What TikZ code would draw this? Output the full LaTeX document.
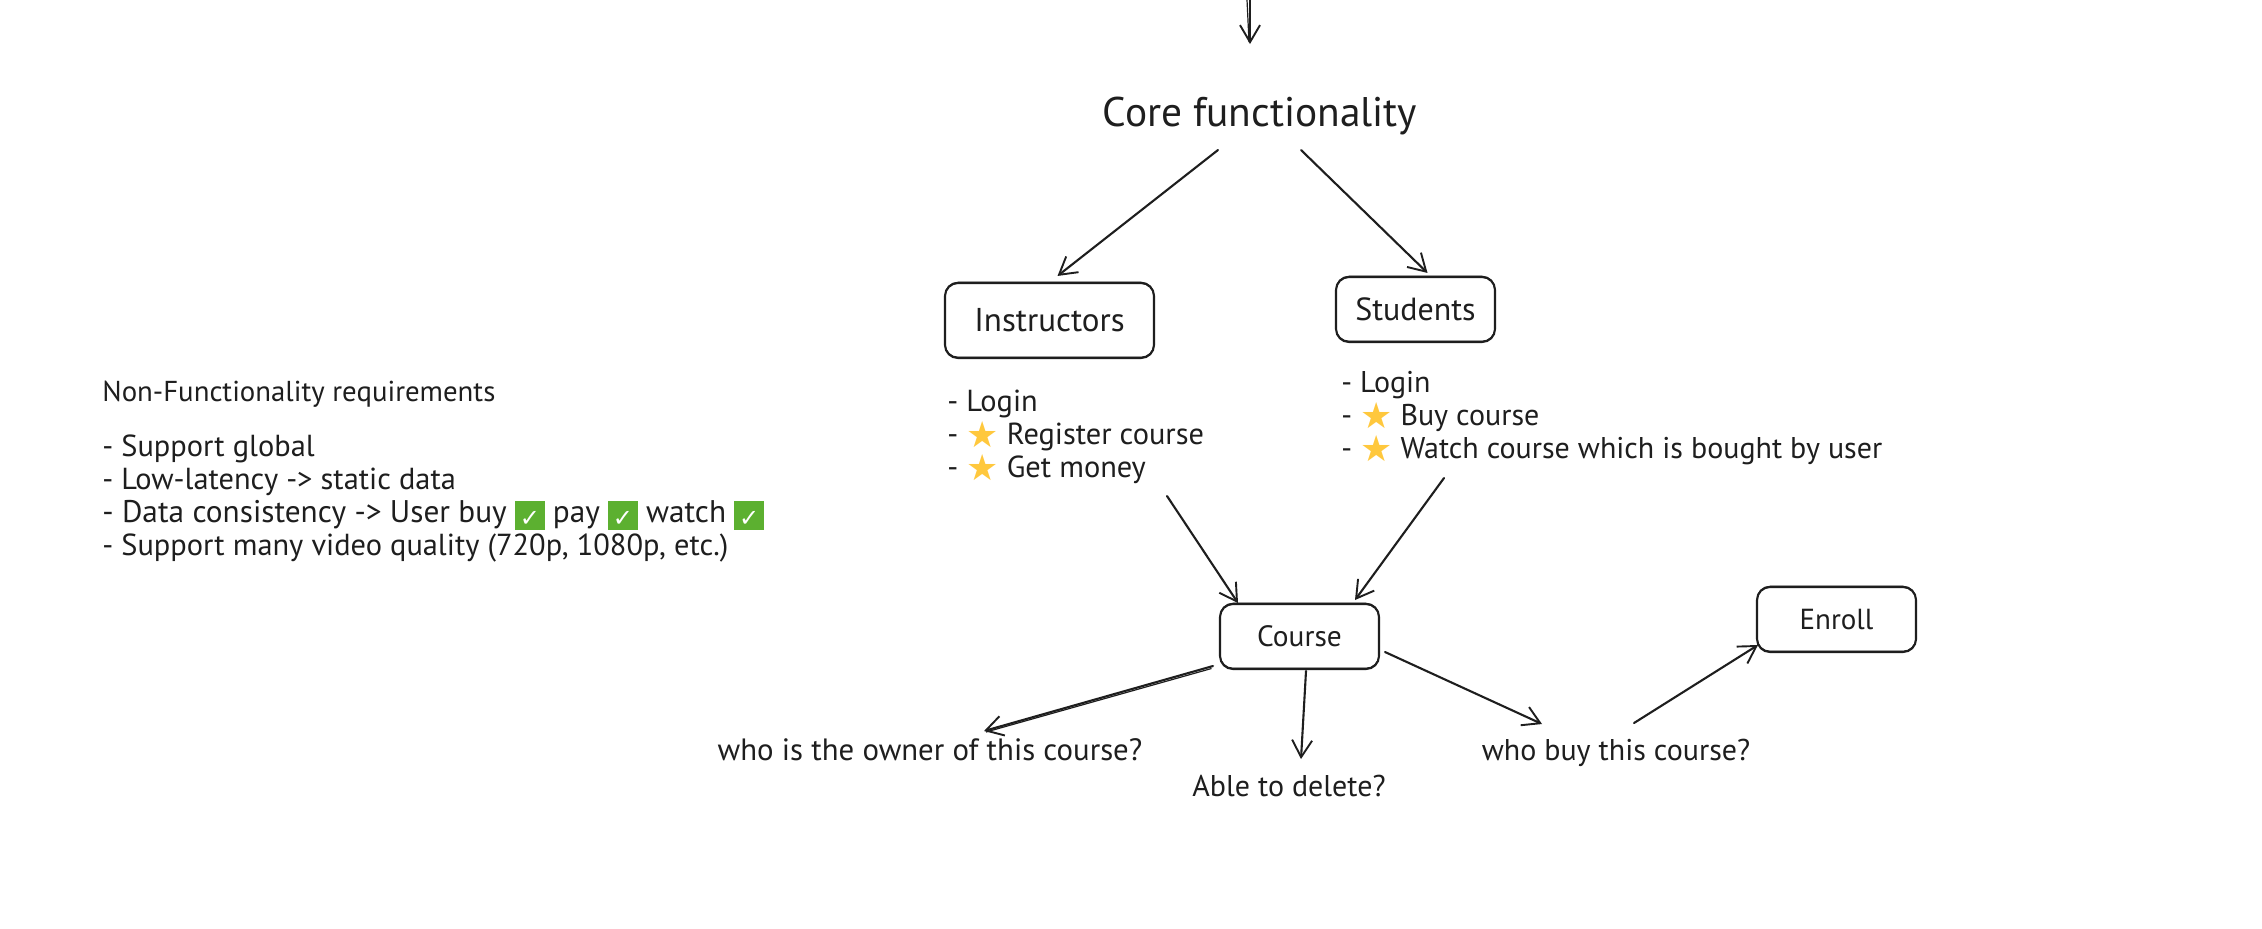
\documentclass[tikz,border=0pt]{standalone}
\usepackage{fontspec}
\setmainfont{PT Sans}
\newfontfamily\symfont{DejaVu Sans}
\usetikzlibrary{arrows.meta}
\definecolor{ink}{HTML}{1E1E1E}
\definecolor{stargold}{HTML}{FFC83D}
\definecolor{chkgreen}{HTML}{5CB030}
\newcommand{\starmark}{\smash{\raisebox{-1.2pt}{\symfont\fontsize{18}{18}\selectfont\color{stargold}★}}}
\newcommand{\chkmark}{\smash{\raisebox{-2.4pt}{\setlength{\fboxsep}{0.6pt}\colorbox{chkgreen}{\rule[-1pt]{0pt}{13.5pt}\makebox[13.5pt]{\symfont\fontsize{12}{12}\selectfont\color{white}✓}}}}}
\tikzset{
  x=0.5pt,y=-0.5pt,
  sketchbox/.style={draw=ink,line width=1.05pt,rounded corners=6.5pt,text=ink,inner sep=0pt,
    postaction={draw=ink,line width=0.5pt,transform canvas={yshift=0.4pt}}},
  arr/.style={draw=ink,line width=1.05pt,line cap=round,-{Straight Barb[length=8.5pt,width=10pt,line width=0.95pt]}},
  thinstroke/.style={draw=ink,line width=0.6pt},
  txt/.style={text=ink,inner sep=0pt,font=\fontsize{15}{16.5}\selectfont,align=left},
}
\begin{document}
\begin{tikzpicture}
\useasboundingbox[fill=white] (0,0) rectangle (2262,928);
\node[text=ink,inner sep=0pt,font=\fontsize{20.7}{24}\selectfont] (core) at (1260,116) {Core functionality};
\coordinate (topin) at (1250,0);
\coordinate (topin2) at (1247,0);
\node[sketchbox,minimum width=104.5pt,minimum height=37.5pt,font=\fontsize{16.5}{18}\selectfont] (instr) at (1049.5,320.5) {Instructors};
\node[sketchbox,minimum width=79.5pt,minimum height=32.5pt,font=\fontsize{16}{18}\selectfont] (stud) at (1415.5,309.5) {Students};
\node[sketchbox,minimum width=79.5pt,minimum height=32.5pt,font=\fontsize{14.7}{18}\selectfont] (course) at (1299.5,636.5) {Course};
\node[sketchbox,minimum width=79.5pt,minimum height=32.5pt,font=\fontsize{14.5}{18}\selectfont] (enroll) at (1836.5,619.5) {Enroll};
\node[txt,anchor=north west,font=\fontsize{15.2}{16.5}\selectfont] (ilist) at (947,390) {- Login\\- \starmark{} Register course\\- \starmark{} Get money};
\node[txt,anchor=north west] (slist) at (1341,371) {- Login\\- \starmark{} Buy course\\- \starmark{} Watch course which is bought by user};
\node[txt,anchor=north west,font=\fontsize{14.4}{16.5}\selectfont] (nfhead) at (102,381) {Non-Functionality requirements};
\node[txt,anchor=north west,font=\fontsize{15.2}{16.5}\selectfont] (nflist) at (102,434) {- Support global\\- Low-latency -> static data\\{\fontsize{15.65}{16.5}\selectfont - Data consistency -> User buy \chkmark{} pay \chkmark{} watch \chkmark{}}\\- Support many video quality (720p, 1080p, etc.)};
\node[txt,font=\fontsize{15.4}{16.5}\selectfont] (owner) at (930,750) {who is the owner of this course?};
\node[txt] (del) at (1289,786) {Able to delete?};
\node[txt] (buy) at (1616,753) {who buy this course?};
\draw[arr] (topin) -- ([shift={(-10,-72)}]core.center);
\draw[thinstroke] (topin2) -- ([shift={(-11,-74)}]core.center);
\draw[arr] ([shift={(-42,34)}]core.center) -- ([shift={(8,-6)}]instr.north);
\draw[arr] ([shift={(41,34)}]core.center) -- ([shift={(12,-3)}]stud.north);
\draw[arr] ([shift={(220,106)}]ilist.north west) -- ([shift={(-61.5,-33.5)}]course.center);
\draw[arr] ([shift={(103,107)}]slist.north west) -- ([shift={(55.5,-36.5)}]course.center);
\draw[arr] ([shift={(-86.5,29.5)}]course.center) -- ([shift={(54,-19)}]owner.center);
\draw[thinstroke] ([shift={(-88,32)}]course.center) -- ([shift={(56,-18)}]owner.center);
\draw[arr] ([shift={(6.5,34.5)}]course.center) -- ([shift={(12,-27)}]del.center);
\draw[arr] ([shift={(85.5,15.5)}]course.center) -- ([shift={(-74,-29)}]buy.center);
\draw[arr] ([shift={(18,-30)}]buy.center) -- ([shift={(-78.5,25.5)}]enroll.center);
\end{tikzpicture}
\end{document}
